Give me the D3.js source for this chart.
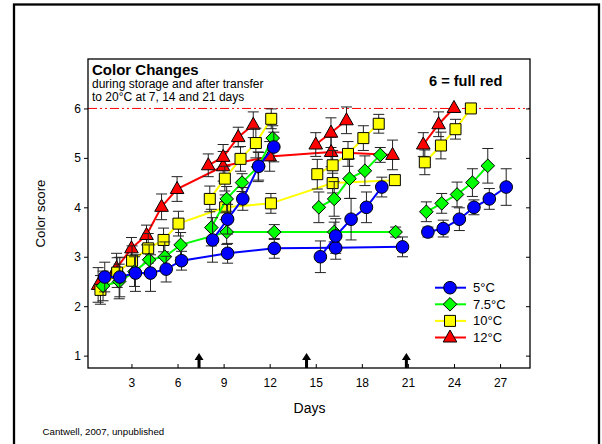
<!DOCTYPE html>
<html>
<head>
<meta charset="utf-8">
<script src="https://cdn.jsdelivr.net/npm/d3@7"></script>
<style>
  body { margin: 0; background: #fff; }
  svg { display: block; font-family: Arial, "Liberation Sans", sans-serif; }
</style>
</head>
<body>
<div id="mainDiv"></div>
<script>
'use strict';

// [day, color score, error]
var blueStorage = [[1.26,2.59,0.3],[2.24,2.59,0.4],[3.26,2.67,0.37],[4.24,2.67,0.37],[5.26,2.75,0.26],[6.26,2.92,0.19],[9.26,3.07,0.2],[12.3,3.17,0.2],[16.3,3.18,0.23],[20.65,3.2,0.2]];
var blueT7  = [[8.28,3.34,0.45],[9.26,3.76,0.3],[10.25,4.17,0.23],[11.28,4.83,0.28],[12.27,5.22,0.3]];
var blueT14 = [[15.3,3.0,0.32],[16.3,3.42,0.35],[17.3,3.76,0.42],[18.3,4.0,0.31],[19.3,4.41,0.2]];
var blueT21 = [[22.3,3.5,0.1],[23.3,3.57,0.17],[24.35,3.76,0.23],[25.3,4.0,0.15],[26.3,4.17,0.21],[27.4,4.41,0.37]];

var greenStorage = [[1.15,2.41,0.3],[2.2,2.5,0.35],[3.2,2.7,0.3],[4.15,2.94,0.3],[5.17,3.0,0.3],[6.2,3.24,0.25],[9.2,3.5,0.25],[12.3,3.5,0.15],[16.2,3.5,0.2],[20.2,3.5,0.1]];
var greenT7  = [[8.2,3.59,0.37],[9.2,4.17,0.25],[10.2,4.5,0.18],[11.25,4.82,0.3],[12.2,5.4,0.25]];
var greenT14 = [[15.2,4.0,0.31],[16.2,4.17,0.35],[17.2,4.58,0.4],[18.2,4.74,0.3],[19.2,5.06,0.15]];
var greenT21 = [[22.2,3.91,0.2],[23.2,4.08,0.2],[24.2,4.26,0.25],[25.2,4.5,0.28],[26.2,4.84,0.35]];

var yellowStorage = [[0.98,2.33,0.29],[2.07,2.68,0.3],[3.04,2.92,0.3],[4.09,3.17,0.3],[5.09,3.34,0.24],[6.06,3.67,0.25],[9.1,4.0,0.25],[12.08,4.08,0.2],[16.1,4.49,0.2],[20.15,4.55,0.1]];
var yellowT7  = [[8.1,4.17,0.26],[9.08,4.58,0.25],[10.1,4.98,0.25],[11.1,5.3,0.3],[12.1,5.79,0.2]];
var yellowT14 = [[15.1,4.67,0.3],[16.1,4.85,0.3],[17.1,5.08,0.25],[18.1,5.4,0.25],[19.1,5.69,0.19]];
var yellowT21 = [[22.1,4.91,0.25],[23.15,5.25,0.27],[24.1,5.58,0.2],[25.1,6.0,0]];

var redStorage = [[0.83,2.43,0.35],[2.03,2.77,0.3],[3.0,3.17,0.22],[3.98,3.44,0.2],[4.96,4.01,0.26],[5.97,4.37,0.25],[8.97,4.83,0.3],[12.0,5.03,0.3],[16.0,5.12,0.3],[20.0,5.06,0.3]];
var redT7  = [[8.0,4.85,0.23],[8.97,5.02,0.25],[9.95,5.42,0.2],[10.93,5.67,0.26]];
var redT14 = [[15.0,5.27,0.24],[15.99,5.51,0.3],[17.0,5.76,0.27]];
var redT21 = [[22.0,5.27,0.24],[23.0,5.68,0.25],[24.0,6.01,0]];

var seriesNames = ['12°C', '10°C', '7.5°C', '5°C'];
var xTicks = [3, 6, 9, 12, 15, 18, 21, 24, 27];
var yTicks = [1, 2, 3, 4, 5, 6];
var transferDays = [7.4, 14.4, 20.9];
var fullRed = 6;

var chart = {};
chart.width = 602;
chart.height = 444;
chart.box = {left: 88, right: 530, top: 59, bottom: 368};

chart.xScale = d3.scaleLinear().domain([0.17, 28.95]).range([chart.box.left, chart.box.right]);
chart.yScale = d3.scaleLinear().domain([0.75, 7]).range([chart.box.bottom, chart.box.top]);

chart.series = [
  {name: seriesNames[0], color: '#ff0000', shape: 'triangle', segs: [redStorage, redT7, redT14, redT21]},
  {name: seriesNames[1], color: '#ffff00', shape: 'square', segs: [yellowStorage, yellowT7, yellowT14, yellowT21]},
  {name: seriesNames[2], color: '#00ff00', shape: 'diamond', segs: [greenStorage, greenT7, greenT14, greenT21]},
  {name: seriesNames[3], color: '#0000ff', shape: 'circle', segs: [blueStorage, blueT7, blueT14, blueT21]}
];

chart.shapePath = function(shape){
  if (shape === 'circle') return 'M6.3,0A6.3,6.3 0 1,1 -6.3,0A6.3,6.3 0 1,1 6.3,0Z';
  if (shape === 'diamond') return 'M0,-6.8L6.8,0L0,6.8L-6.8,0Z';
  if (shape === 'square') return 'M-5.5,-5.5H5.5V5.5H-5.5Z';
  return 'M0,-7.5L6.8,4.5L-6.8,4.5Z';
};

chart.start = function(){
  var svg = d3.select('#mainDiv').append('svg')
      .attr('width', chart.width).attr('height', chart.height);
  var x = chart.xScale, y = chart.yScale, b = chart.box;

  // slide frame
  svg.append('rect').attr('x', 14).attr('y', 4.5).attr('width', 585).attr('height', 500)
      .attr('fill', 'none').attr('stroke', '#000').attr('stroke-width', 2.3);

  // 6 = full red reference line
  svg.append('line')
      .attr('x1', b.left).attr('x2', b.right)
      .attr('y1', y(fullRed)).attr('y2', y(fullRed))
      .attr('stroke', '#ff0000').attr('stroke-width', 1)
      .attr('stroke-dasharray', '9,3,2,3,2,3');

  var line = d3.line().x(function(d){ return x(d[0]); }).y(function(d){ return y(d[1]); });

  chart.series.forEach(function(s){
    var g = svg.append('g');
    g.selectAll('path.ln').data(s.segs).enter().append('path')
        .attr('class', 'ln').attr('d', line)
        .attr('fill', 'none').attr('stroke', s.color).attr('stroke-width', 2);

    var pts = [].concat.apply([], s.segs);
    var eb = g.selectAll('g.eb').data(pts.filter(function(d){ return d[2] > 0; })).enter().append('g')
        .attr('stroke', '#222').attr('stroke-width', 1).attr('fill', 'none');
    eb.append('line')
        .attr('x1', function(d){ return x(d[0]); }).attr('x2', function(d){ return x(d[0]); })
        .attr('y1', function(d){ return y(d[1] - d[2]); }).attr('y2', function(d){ return y(d[1] + d[2]); });
    [1, -1].forEach(function(sign){
      eb.append('line')
          .attr('x1', function(d){ return x(d[0]) - 5.5; }).attr('x2', function(d){ return x(d[0]) + 5.5; })
          .attr('y1', function(d){ return y(d[1] + sign * d[2]); }).attr('y2', function(d){ return y(d[1] + sign * d[2]); });
    });

    g.selectAll('path.mk').data(pts).enter().append('path')
        .attr('class', 'mk').attr('d', chart.shapePath(s.shape))
        .attr('transform', function(d){ return 'translate(' + x(d[0]) + ',' + y(d[1]) + ')'; })
        .attr('fill', s.color).attr('stroke', '#000').attr('stroke-width', 1);
  });

  // plot box
  svg.append('rect').attr('x', b.left).attr('y', b.top)
      .attr('width', b.right - b.left).attr('height', b.bottom - b.top)
      .attr('fill', 'none').attr('stroke', '#000').attr('stroke-width', 1.3);

  // axes
  var xAxis = svg.append('g').attr('transform', 'translate(0,' + b.bottom + ')')
      .call(d3.axisBottom(x).tickValues(xTicks).tickSizeInner(-4).tickSizeOuter(0).tickPadding(10));
  var yAxis = svg.append('g').attr('transform', 'translate(' + b.left + ',0)')
      .call(d3.axisLeft(y).tickValues(yTicks).tickFormat(d3.format('d')).tickSizeInner(4).tickSizeOuter(0).tickPadding(3));
  var yRight = svg.append('g').attr('transform', 'translate(' + b.right + ',0)')
      .call(d3.axisRight(y).tickValues(yTicks).tickSizeInner(-4).tickSizeOuter(0).tickFormat(''));
  [xAxis, yAxis, yRight].forEach(function(a){
    a.select('.domain').remove();
    a.selectAll('text').attr('font-size', 12).attr('font-family', 'Arial, "Liberation Sans", sans-serif').attr('fill', '#000');
  });

  // transfer arrows
  svg.selectAll('path.arrow').data(transferDays).enter().append('path')
      .attr('class', 'arrow')
      .attr('transform', function(d){ return 'translate(' + x(d) + ',' + b.bottom + ')'; })
      .attr('d', 'M-1.5,0V-8H-4.5L0,-15L4.5,-8H1.5V0Z')
      .attr('fill', '#000');

  // titles
  svg.append('text').attr('x', 92).attr('y', 75).attr('font-size', 15).attr('font-weight', 'bold').text('Color Changes');
  svg.append('text').attr('x', 92).attr('y', 88).attr('font-size', 12).text('during storage and after transfer');
  svg.append('text').attr('x', 92).attr('y', 101).attr('font-size', 12).text('to 20°C at 7, 14 and 21 days');
  svg.append('text').attr('x', 429).attr('y', 85.5).attr('font-size', 14.6).attr('font-weight', 'bold').text('6 = full red');

  svg.append('text').attr('x', (b.left + b.right) / 2 + 0.5).attr('y', 413).attr('text-anchor', 'middle')
      .attr('font-size', 14).text('Days');
  svg.append('text').attr('transform', 'translate(45,' + ((b.top + b.bottom) / 2) + ') rotate(-90)')
      .attr('text-anchor', 'middle').attr('font-size', 13.3).text('Color score');
  svg.append('text').attr('x', 42.5).attr('y', 435).attr('font-size', 9.7).text('Cantwell, 2007, unpublished');

  // legend
  var legend = svg.append('g').attr('transform', 'translate(435,287.7)');
  var rows = legend.selectAll('g').data(chart.series.slice().reverse()).enter().append('g')
      .attr('transform', function(d, i){ return 'translate(0,' + (i * 16.6) + ')'; });
  rows.append('line').attr('x1', 0).attr('x2', 31).attr('stroke', function(d){ return d.color; }).attr('stroke-width', 2);
  rows.append('path').attr('transform', 'translate(15,0)')
      .attr('d', function(d){ return chart.shapePath(d.shape); })
      .attr('fill', function(d){ return d.color; }).attr('stroke', '#000');
  rows.append('text').attr('x', 38).attr('y', 4.5).attr('font-size', 13).text(function(d){ return d.name; });
};

window.onload = chart.start;
</script>
</body>
</html>
